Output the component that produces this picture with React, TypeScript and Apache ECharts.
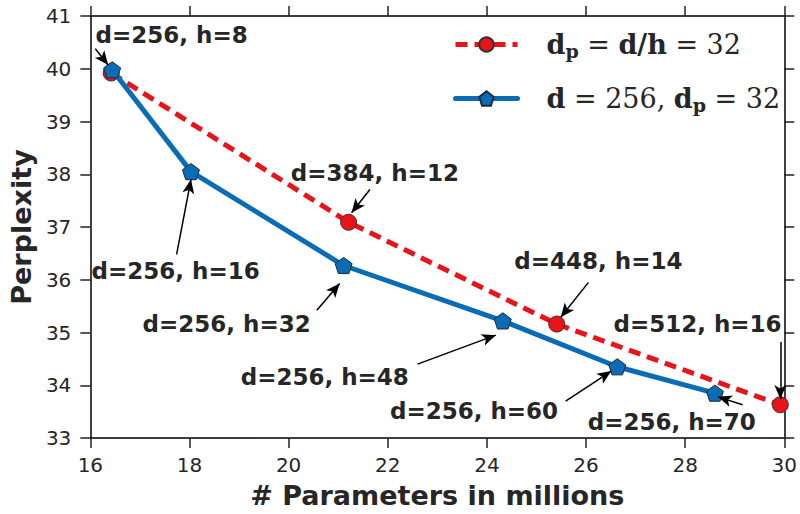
import React, { useEffect, useRef } from "react";
import * as echarts from "echarts";

const xTicks = [16, 18, 20, 22, 24, 26, 28, 30];
const yTicks = [33, 34, 35, 36, 37, 38, 39, 40, 41];

// red series: d_p = d/h = 32
const redX = [16.42, 21.21, 25.41, 29.92];
const redY = [39.92, 37.09, 35.16, 33.63];
// blue series: d = 256, d_p = 32
const blueX = [16.44, 18.03, 21.11, 24.32, 26.63, 28.6];
const blueY = [39.98, 38.05, 36.27, 35.22, 34.35, 33.85];

// annotations: text, text position, arrow tail, arrow tip (data coords)
const annText = [
  "d=256, h=8",
  "d=384, h=12",
  "d=256, h=16",
  "d=256, h=32",
  "d=448, h=14",
  "d=256, h=48",
  "d=512, h=16",
  "d=256, h=60",
  "d=256, h=70",
];
const annTextX = [17.64, 21.74, 17.72, 18.75, 26.25, 20.73, 28.25, 23.74, 27.73];
const annTextY = [40.64, 38.03, 36.16, 35.16, 36.35, 34.15, 35.16, 33.51, 33.3];
const arrowTailX = [16.1, 21.64, 17.74, 20.57, 26.05, 22.6, 29.92, 25.59, 29.16];
const arrowTailY = [40.38, 37.71, 36.48, 35.42, 35.95, 34.4, 34.82, 33.7, 33.63];
const arrowTipX = [16.36, 21.27, 18.03, 21.03, 25.49, 24.18, 29.92, 26.51, 28.66];
const arrowTipY = [40.07, 37.27, 37.9, 35.93, 35.29, 34.95, 33.74, 34.27, 33.78];

const PENTAGON = "path://M0,-10L9.51,-3.09L5.88,8.09L-5.88,8.09L-9.51,-3.09Z";

export default function App() {
  const ref = useRef<HTMLDivElement>(null);
  useEffect(() => {
    if (!ref.current) return;
    const chart = echarts.init(ref.current, null, { renderer: "svg" });
    const axisCommon = {
      type: "value" as const,
      axisLine: { show: true, onZero: false, lineStyle: { color: "#000", width: 1.5 } },
      axisTick: { show: true, inside: false, length: 10, lineStyle: { color: "#222", width: 1.5 } },
      splitLine: { show: false },
    };
    const txtColor = "#262626";
    chart.setOption({
      animation: false,
      backgroundColor: "#fff",
      grid: { left: 89, right: 13, top: 16, bottom: 75, containLabel: false },
      xAxis: [
        {
          ...axisCommon,
          min: xTicks[0],
          max: xTicks[xTicks.length - 1],
          interval: 2,
          axisLabel: { color: txtColor, fontSize: 20, fontFamily: "DejaVu Sans", margin: 17 },
          name: "# Parameters in millions",
          nameLocation: "middle",
          nameGap: 44,
          nameTextStyle: { color: txtColor, fontSize: 27, fontWeight: "bold", fontFamily: "DejaVu Sans" },
        },
        { ...axisCommon, position: "top", min: xTicks[0], max: xTicks[xTicks.length - 1], interval: 2, axisLabel: { show: false } },
      ],
      yAxis: [
        {
          ...axisCommon,
          min: yTicks[0],
          max: yTicks[yTicks.length - 1],
          interval: 1,
          axisLabel: { color: txtColor, fontSize: 20, fontFamily: "DejaVu Sans", margin: 19 },
          name: "Perplexity",
          nameLocation: "middle",
          nameGap: 54,
          nameTextStyle: { color: txtColor, fontSize: 27, fontWeight: "bold", fontFamily: "DejaVu Sans" },
        },
        { ...axisCommon, position: "right", min: yTicks[0], max: yTicks[yTicks.length - 1], interval: 1, axisLabel: { show: false } },
      ],
      legend: {
        left: 448,
        top: 26,
        orient: "vertical",
        itemWidth: 62,
        itemHeight: 18,
        itemGap: 25,
        data: ["red", "blue"],
        lineStyle: { width: 5 },
        formatter: (name: string) =>
          name === "red"
            ? "{g|}{b|d}{s|p}{r| = }{b|d/h}{r| = 32}"
            : "{g|}{b|d}{r| = 256, }{b|d}{s|p}{r| = 32}",
        textStyle: {
          rich: {
            g: { width: 24 },
            b: { fontFamily: "DejaVu Serif", fontWeight: "bold", fontSize: 27, color: txtColor },
            s: { fontFamily: "DejaVu Serif", fontWeight: "bold", fontSize: 19, color: txtColor, padding: [12, 0, 0, 0] },
            r: { fontFamily: "DejaVu Serif", fontSize: 27, color: txtColor },
          },
        },
      },
      series: [
        {
          name: "red",
          type: "line",
          data: redX.map((x, i) => [x, redY[i]]),
          symbol: "circle",
          symbolSize: 16,
          lineStyle: { color: "#e8141a", width: 5, type: [12, 7] },
          itemStyle: { color: "#e8141a", borderColor: "#333", borderWidth: 1 },
          z: 3,
        },
        {
          name: "blue",
          type: "line",
          data: blueX.map((x, i) => [x, blueY[i]]),
          symbol: PENTAGON,
          symbolSize: 17,
          symbolKeepAspect: true,
          lineStyle: { color: "#0a6cb4", width: 5, cap: "round" },
          itemStyle: { color: "#0a6cb4", borderColor: "#1a2a3a", borderWidth: 1 },
          z: 4,
        },
        {
          name: "arrows",
          type: "line",
          data: [],
          markLine: {
            silent: true,
            symbol: ["none", "arrow"],
            symbolSize: [9, 14],
            label: { show: false },
            lineStyle: { color: "#000", width: 1.5, type: "solid" },
            data: annText.map((_, i) => [
              { coord: [arrowTailX[i], arrowTailY[i]] },
              { coord: [arrowTipX[i], arrowTipY[i]] },
            ]),
          },
          z: 5,
        },
        {
          name: "labels",
          type: "scatter",
          data: annText.map((t, i) => [annTextX[i], annTextY[i], t]),
          symbolSize: 1,
          itemStyle: { color: "transparent", opacity: 1 },
          silent: true,
          label: {
            show: true,
            position: "inside",
            opacity: 1,
            formatter: (p: any) => p.value[2],
            color: txtColor,
            fontSize: 23,
            fontWeight: "bold",
            fontFamily: "DejaVu Sans",
          },
          z: 6,
        },
      ],
    });
    return () => chart.dispose();
  }, []);
  return <div ref={ref} style={{ width: 800, height: 514, position: "absolute", left: 0, top: 0 }} />;
}
